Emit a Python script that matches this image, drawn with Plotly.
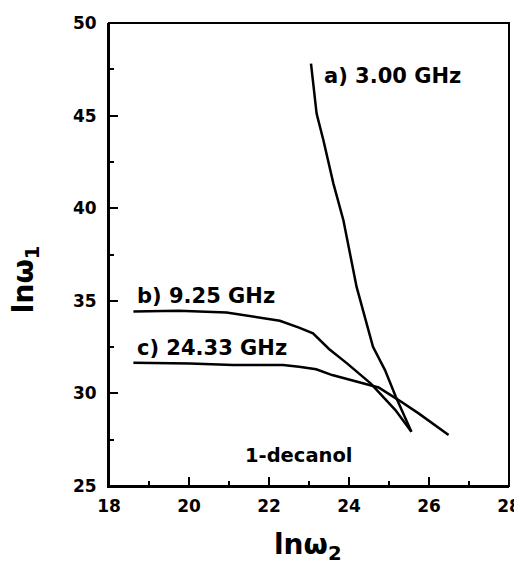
import plotly.graph_objects as go

# Data
a_x = [23.05, 23.19, 23.36, 23.61, 23.86, 23.96, 24.19, 24.60, 24.90, 25.17, 25.56]
a_y = [47.81, 45.11, 43.67, 41.33, 39.35, 38.27, 35.75, 32.51, 31.26, 29.82, 27.93]

b_x = [18.61, 19.74, 20.94, 22.27, 22.75, 23.10, 23.50, 23.95, 24.54, 25.16, 25.56]
b_y = [34.42, 34.46, 34.37, 33.92, 33.55, 33.24, 32.40, 31.62, 30.54, 29.10, 27.93]

c_x = [18.61, 20.02, 21.10, 22.35, 22.75, 23.18, 23.58, 24.41, 24.74, 25.24, 25.74, 26.49]
c_y = [31.65, 31.62, 31.53, 31.53, 31.44, 31.30, 30.99, 30.54, 30.32, 29.64, 28.92, 27.75]

labels = ["a) 3.00 GHz", "b) 9.25 GHz", "c) 24.33 GHz"]
label_x = [23.32, 18.66, 18.66]
label_y = [47.12, 35.25, 32.44]

sample_label = "1-decanol"
x_title = "lnω<sub>2</sub>"
y_title = "lnω<sub>1</sub>"

FONT = "DejaVu Sans"

fig = go.Figure()
for xs, ys in [(a_x, a_y), (b_x, b_y), (c_x, c_y)]:
    fig.add_trace(go.Scatter(x=xs, y=ys, mode="lines",
                             line=dict(color="black", width=2.5),
                             showlegend=False, hoverinfo="skip"))

annotations = []
for t, x, y in zip(labels, label_x, label_y):
    annotations.append(dict(x=x, y=y, xref="x", yref="y", text=t,
                            showarrow=False, xanchor="left", yanchor="middle",
                            font=dict(family=FONT, size=21, color="black", weight="bold")))
annotations.append(dict(x=22.74, y=26.67, xref="x", yref="y", text=sample_label,
                        showarrow=False, xanchor="center", yanchor="middle",
                        font=dict(family=FONT, size=19.5, color="black", weight="bold")))
annotations.append(dict(x=22.97, y=0, xref="x", yref="paper", text=x_title,
                        showarrow=False, xanchor="center", yanchor="top", yshift=-40,
                        font=dict(family=FONT, size=28, color="black", weight="bold")))
annotations.append(dict(x=0, y=36.17, xref="paper", yref="y", text=y_title,
                        showarrow=False, xanchor="center", yanchor="middle", xshift=-84,
                        textangle=-90,
                        font=dict(family=FONT, size=28, color="black", weight="bold")))

# The page body adds an 8px offset, so the figure is sized to fit the 522x567 window.
fig.update_layout(
    template="none",
    width=514, height=559,
    margin=dict(l=101, r=13, t=15, b=81, pad=0, autoexpand=False),
    paper_bgcolor="white", plot_bgcolor="white",
    font=dict(family=FONT, color="black"),
    annotations=annotations,
    shapes=[dict(type="rect", xref="x domain", yref="y domain", x0=0, x1=1, y0=0, y1=1,
                 line=dict(color="black", width=2), layer="above")],
)
fig.update_xaxes(range=[18, 28], tick0=18, dtick=2, ticks="inside", ticklen=9, tickwidth=2,
                 automargin=False, ticklabelstandoff=4,
                 tickcolor="black", showgrid=False, zeroline=False, showline=True,
                 linecolor="black", linewidth=2,
                 tickfont=dict(family=FONT, size=17, color="black", weight="bold"),
                 minor=dict(ticks="inside", dtick=1, ticklen=5, tickwidth=2, tickcolor="black",
                            showgrid=False))
fig.update_yaxes(range=[25, 50], tick0=25, dtick=5, ticks="inside", ticklen=9, tickwidth=2,
                 automargin=False, ticklabelstandoff=7,
                 tickcolor="black", showgrid=False, zeroline=False, showline=True,
                 linecolor="black", linewidth=2,
                 tickfont=dict(family=FONT, size=17, color="black", weight="bold"),
                 minor=dict(ticks="inside", dtick=2.5, ticklen=5, tickwidth=2, tickcolor="black",
                            showgrid=False))

fig.write_html("out.html")
